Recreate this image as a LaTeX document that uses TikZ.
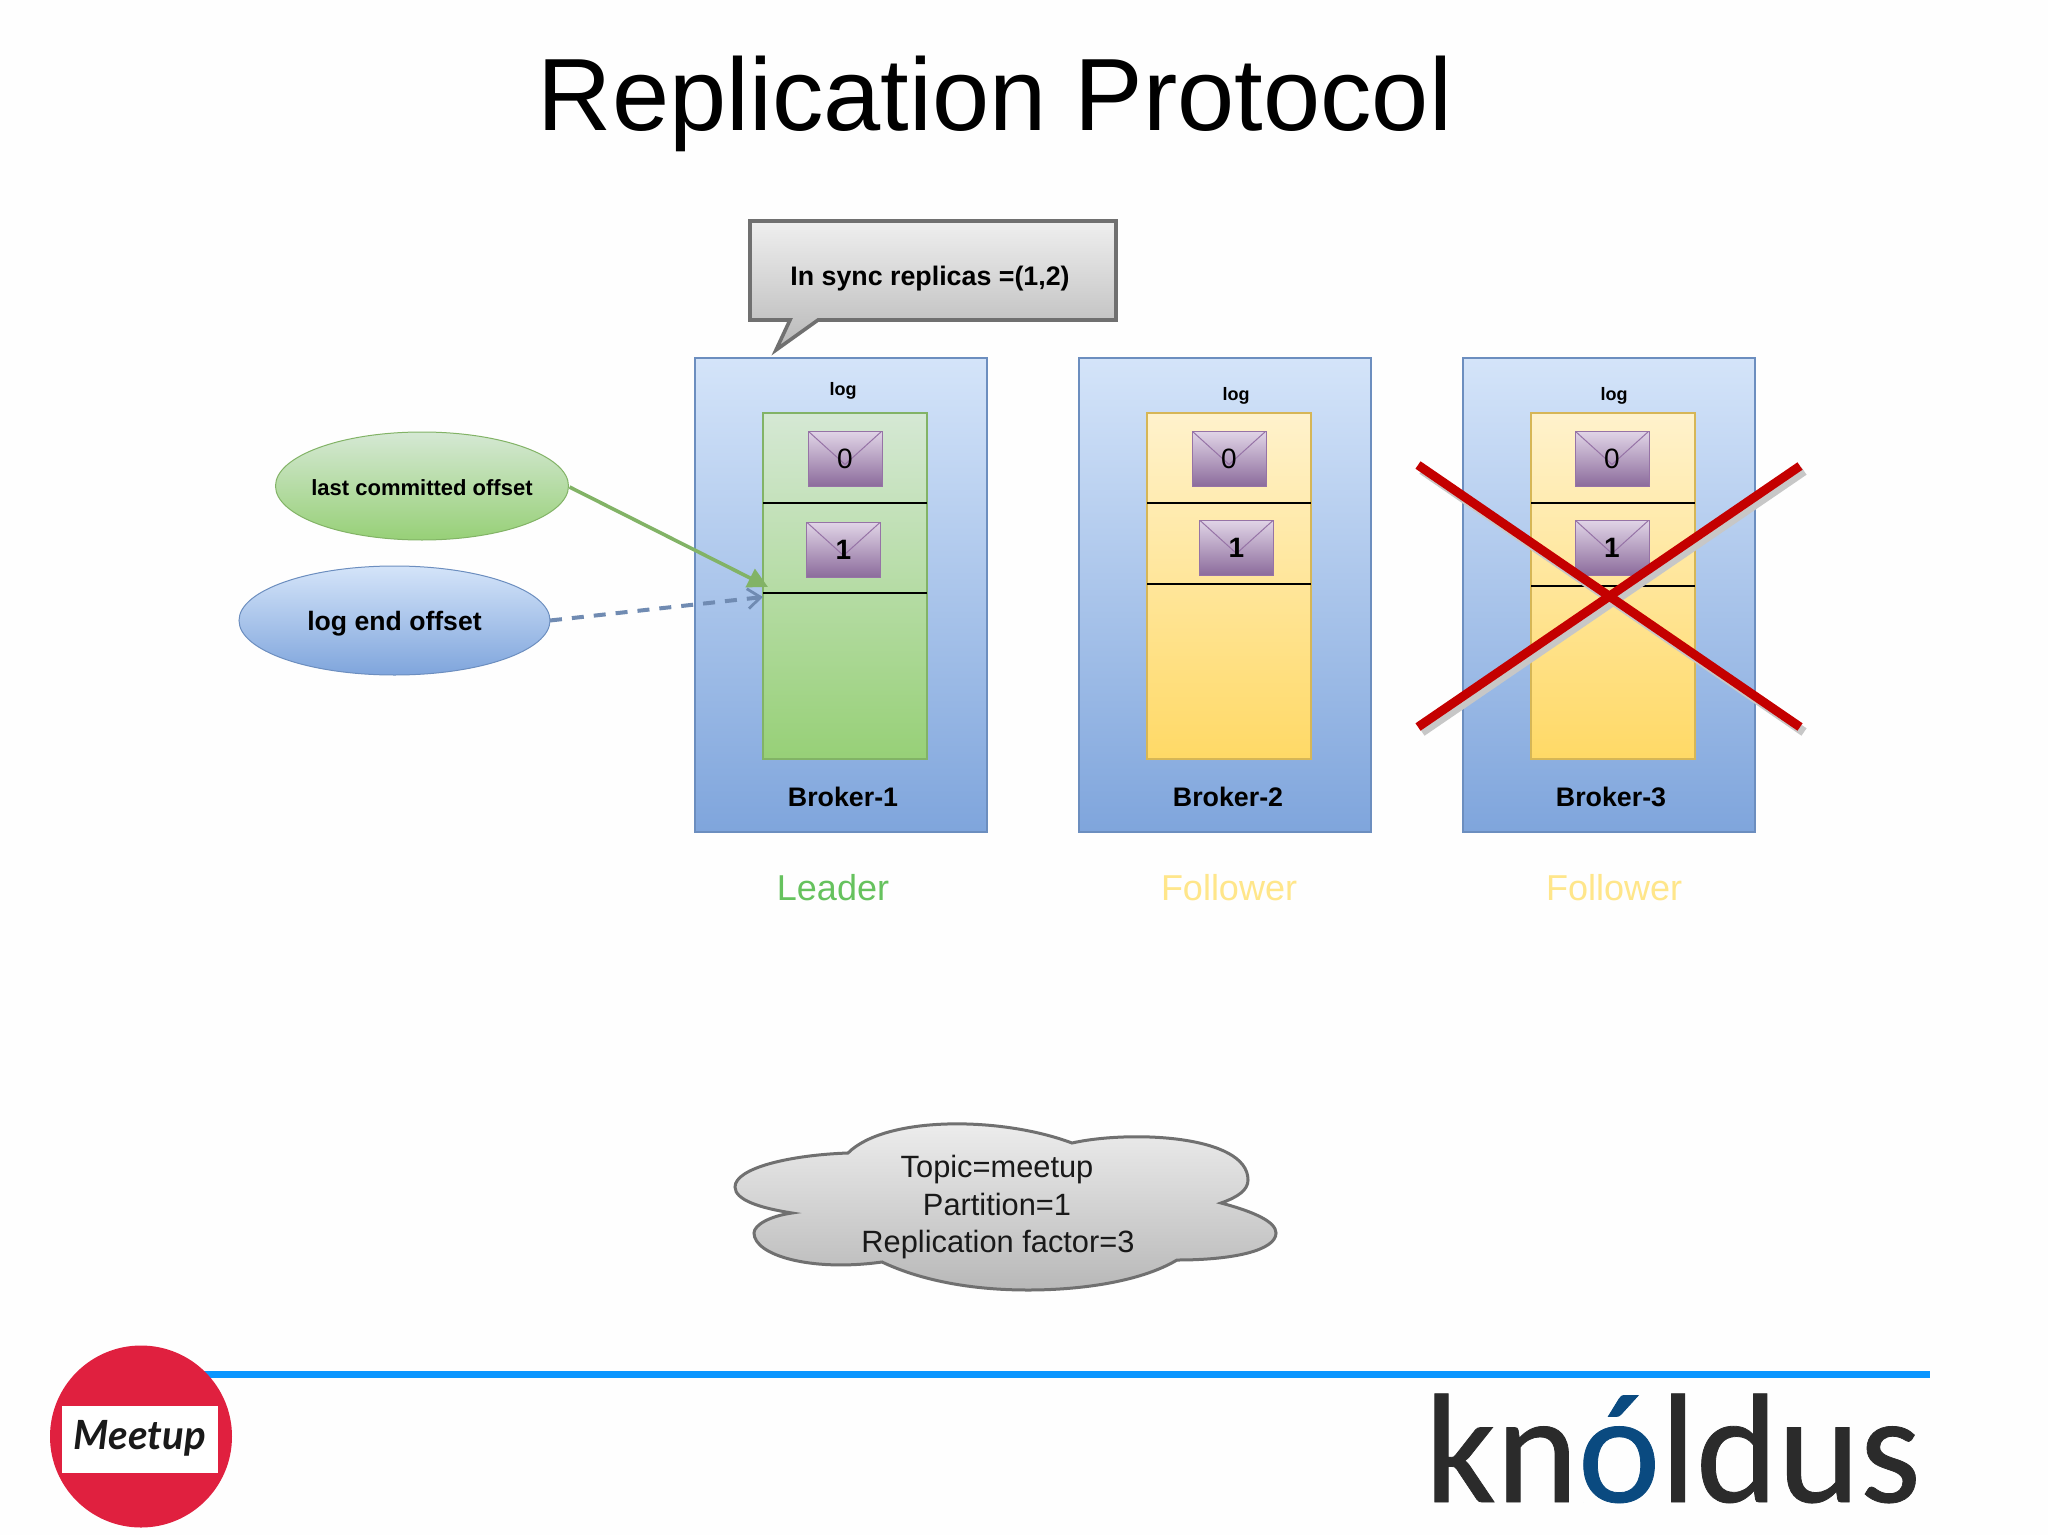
\documentclass[tikz,border=0pt]{standalone}
\usepackage{fontspec}
\setmainfont{Liberation Sans}
\newfontfamily\logofont[FakeBold=0.5]{Carlito}
\newfontfamily\meetfont{Lato}
\usetikzlibrary{arrows.meta,shapes.geometric}
\definecolor{pagebg}{HTML}{FEFEFE}
\definecolor{brkTop}{HTML}{D4E4F9}
\definecolor{brkBot}{HTML}{7FA5DC}
\definecolor{brkLine}{HTML}{6C8EBF}
\definecolor{grnTop}{HTML}{D5E8D4}
\definecolor{grnBot}{HTML}{97D077}
\definecolor{grnLine}{HTML}{82B366}
\definecolor{ylwTop}{HTML}{FFF2CC}
\definecolor{ylwBot}{HTML}{FFD966}
\definecolor{ylwLine}{HTML}{D6B656}
\definecolor{purTop}{HTML}{E1D5E7}
\definecolor{purBot}{HTML}{8C6C9C}
\definecolor{purLine}{HTML}{9673A6}
\definecolor{gryTop}{HTML}{EFEFEF}
\definecolor{gryBot}{HTML}{B8B8B8}
\definecolor{gryLine}{HTML}{707070}
\definecolor{leaderCol}{HTML}{66C25E}
\definecolor{followCol}{HTML}{FFE68A}
\definecolor{crossCol}{HTML}{C40000}
\definecolor{ruleCol}{HTML}{0A96FF}
\definecolor{meetRed}{HTML}{E0203F}
\definecolor{logoDark}{HTML}{2B2B2B}
\definecolor{logoBlue}{HTML}{0A4A80}
\tikzset{
  x=0.5pt,y=-0.5pt,
  brokerbox/.style={draw=brkLine,line width=0.6pt,top color=brkTop,bottom color=brkBot,minimum width=146pt,minimum height=237pt,inner sep=0pt,outer sep=0pt},
  greenlog/.style={draw=grnLine,line width=0.6pt,top color=grnTop,bottom color=grnBot,minimum width=82pt,minimum height=173pt,inner sep=0pt,outer sep=0pt},
  yellowlog/.style={draw=ylwLine,line width=0.6pt,top color=ylwTop,bottom color=ylwBot,minimum width=82pt,minimum height=173pt,inner sep=0pt,outer sep=0pt},
  envbox/.style={draw=purLine,line width=0.5pt,top color=purTop,bottom color=purBot,minimum width=37pt,minimum height=27.5pt,inner sep=0pt,outer sep=0pt,text=black,
    font=\fontsize{14}{16}\selectfont,
    path picture={\draw[purLine,line width=0.5pt] (path picture bounding box.north west) -- ([yshift=-3pt]path picture bounding box.center) -- (path picture bounding box.north east);}},
  sep/.style={black,line width=0.7pt},
  lbl/.style={font=\fontsize{13.4}{16}\selectfont\bfseries,text=black,inner sep=0pt},
  loglbl/.style={font=\fontsize{9}{11}\selectfont\bfseries,text=black,inner sep=0pt},
  rolelbl/.style={font=\fontsize{18}{22}\selectfont,inner sep=0pt},
  cloudline/.style={font=\fontsize{15.4}{19}\selectfont,text=black!90,inner sep=0pt,anchor=base},
  crossbar/.style={crossCol,line width=4.5pt},
  crossshadow/.style={black!22,line width=4.5pt},
}
\begin{document}
\begin{tikzpicture}
\useasboundingbox (0,0) rectangle (2048,1535);
\fill[pagebg] (0,0) rectangle (2048,1535);

% title
\node[font=\fontsize{51.4}{60}\selectfont,text=black,inner sep=0pt] (title) at (995,104) {Replication Protocol};

% brokers
\node[brokerbox] (b1) at (841,595) {};
\node[brokerbox] (b2) at (1225,595) {};
\node[brokerbox] (b3) at (1609,595) {};

% logs
\node[greenlog] (l1) at (845,586) {};
\node[yellowlog] (l2) at (1229,586) {};
\node[yellowlog] (l3) at (1613,586) {};

% separators
\draw[sep] (l1.west |- 0,503) -- (l1.east |- 0,503);
\draw[sep] (l1.west |- 0,593) -- (l1.east |- 0,593);
\draw[sep] (l2.west |- 0,503) -- (l2.east |- 0,503);
\draw[sep] (l2.west |- 0,584) -- (l2.east |- 0,584);
\draw[sep] (l3.west |- 0,503) -- (l3.east |- 0,503);
\draw[sep] (l3.west |- 0,586) -- (l3.east |- 0,586);

% envelopes
\node[envbox] (e10) at (845,458.5) {0};
\node[envbox,font=\fontsize{14}{16}\selectfont\bfseries] (e11) at (843.5,549.5) {1};
\node[envbox] (e20) at (1229,458.5) {0};
\node[envbox,font=\fontsize{14}{16}\selectfont\bfseries] (e21) at (1236.5,547.5) {1};
\node[envbox] (e30) at (1612,458.5) {0};
\node[envbox,font=\fontsize{14}{16}\selectfont\bfseries] (e31) at (1612,547.5) {1};

% log labels and broker labels
\node[loglbl] (g1) at (843,391) {log};
\node[loglbl] (g2) at (1236,396) {log};
\node[loglbl] (g3) at (1614,396) {log};
\node[lbl] (n1) at (843,797) {Broker-1};
\node[lbl] (n2) at (1228,797) {Broker-2};
\node[lbl] (n3) at (1611,797) {Broker-3};

% roles
\node[rolelbl,text=leaderCol] (r1) at (833,888) {Leader};
\node[rolelbl,text=followCol] (r2) at (1229,888) {Follower};
\node[rolelbl,text=followCol] (r3) at (1614,888) {Follower};

% callout
\path[draw=gryLine,line width=1.8pt,top color=gryTop,bottom color=gryBot,line join=miter]
  (750,221) -- (1116,221) -- (1116,320) -- (818,320) -- (776,350) -- (790,320) -- (750,320) -- cycle;
\node[lbl] (isr) at (930,279) {In sync replicas =(1,2)};

% ellipses
\node[ellipse,draw=grnLine,line width=0.5pt,top color=grnTop,bottom color=grnBot,minimum width=146.5pt,minimum height=54pt,inner xsep=-4pt,inner ysep=0pt,outer sep=0pt,font=\fontsize{11}{13}\selectfont\bfseries] (lco) at (422,486) {\raisebox{-0.8pt}[\height][\depth]{last committed offset}};
\node[ellipse,draw=brkLine,line width=0.5pt,top color=brkTop,bottom color=brkBot,minimum width=155.5pt,minimum height=54.5pt,inner sep=0pt,outer sep=0pt,font=\fontsize{13.3}{16}\selectfont\bfseries] (leo) at (394.5,620.5) {\raisebox{-1.8pt}[\height][\depth]{log end offset}};

% connectors
\coordinate (greentip) at (768,587);
\coordinate (bluetip) at (763,597);
\draw[grnLine,line width=1.8pt,-{Triangle[length=10pt,width=10pt]}] (lco.east) ++(1,1) -- (greentip);
\draw[brkLine!80!gray,line width=2pt,dash pattern=on 6pt off 5pt,-{Straight Barb[length=6.5pt,width=10pt,line width=1.4pt]}] (leo.east) -- (bluetip);

% red cross
\coordinate (xa) at (1418,465);
\coordinate (xb) at (1800,727);
\coordinate (xc) at (1800,466);
\coordinate (xd) at (1418,727);
\draw[crossshadow] ([shift={(4,5)}]xa) -- ([shift={(4,5)}]xb);
\draw[crossshadow] ([shift={(4,5)}]xc) -- ([shift={(4,5)}]xd);
\draw[crossbar] (xa) -- (xb);
\draw[crossbar] (xc) -- (xd);

% cloud
\path[draw=gryLine,line width=1.5pt,top color=gryTop,bottom color=gryBot]
  (848,1153)
  .. controls (885,1116) and (1000,1116) .. (1072,1143)
  .. controls (1130,1130) and (1248,1135) .. (1248,1180)
  .. controls (1248,1190) and (1238,1197) .. (1221,1203)
  .. controls (1255,1212) and (1276,1222) .. (1276,1233)
  .. controls (1276,1250) and (1235,1260) .. (1177,1260)
  .. controls (1140,1282) and (1080,1290) .. (1028,1290)
  .. controls (970,1290) and (920,1280) .. (882,1262)
  .. controls (810,1272) and (754,1255) .. (754,1233)
  .. controls (754,1225) and (770,1216) .. (792,1213)
  .. controls (760,1208) and (735,1200) .. (735,1187)
  .. controls (735,1168) and (790,1155) .. (848,1153) -- cycle;
\node[cloudline] (c1) at (997,1177) {Topic=meetup};
\node[cloudline] (c2) at (997,1215) {Partition=1};
\node[cloudline] (c3) at (998,1252) {Replication factor=3};

% footer rule and logos
\fill[ruleCol] (200,1371) rectangle (1930,1378);
\node[circle,fill=meetRed,minimum size=91pt,inner sep=0pt,outer sep=0pt] (mc) at (141,1436.5) {};
\node[fill=white,minimum width=78pt,minimum height=33.5pt,inner sep=0pt,outer sep=0pt] (mr) at (140,1439.5) {};
\node[inner sep=0pt,text=black!90] (mt) at (140,1438) {\resizebox{66pt}{!}{\meetfont\bfseries\itshape Meetup}};
\node[inner sep=0pt,anchor=base,font=\logofont\fontsize{78}{90}\selectfont,text=logoDark] (kn) at (1673,1502) {kn{\color{logoBlue}ó}ldus};
\end{tikzpicture}
\end{document}
